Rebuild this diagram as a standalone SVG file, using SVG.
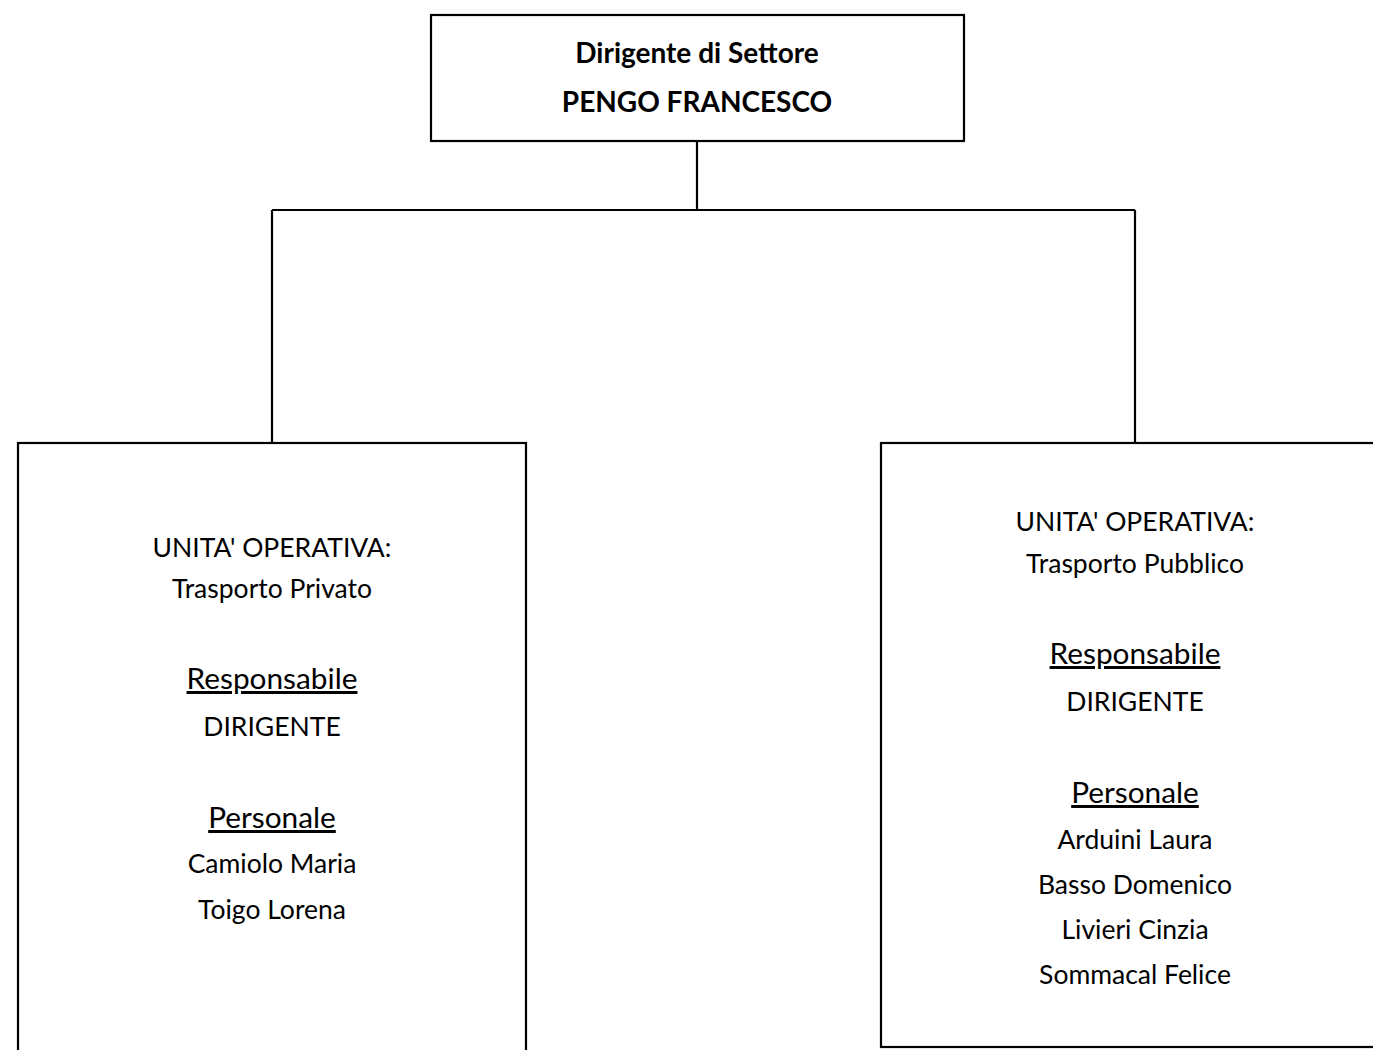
<svg xmlns="http://www.w3.org/2000/svg" width="1373" height="1050" viewBox="0 0 1373 1050">
<style>
.box{fill:#fff;stroke:#000;stroke-width:2.2}
.conn{fill:none;stroke:#000;stroke-width:2.2}
text{font-family:Lato,"Open Sans","Liberation Sans",sans-serif;fill:#000;text-anchor:middle}
.t{font-size:26.5px}
.h{font-size:29.8px;text-decoration:underline}
.b{font-size:28px;font-weight:bold}
</style>
<rect width="1373" height="1050" fill="#fff"/>
<g id="connectors">
<path class="conn" d="M697 141V210M272 210H1135M272 210V443M1135 210V443"/>
</g>
<g id="node-dirigente">
<rect class="box" x="431" y="15" width="533" height="126"/>
<text class="b" x="697" y="63">Dirigente di Settore</text>
<text class="b" x="697" y="112">PENGO FRANCESCO</text>
</g>
<g id="node-privato">
<rect class="box" x="18" y="443" width="508" height="620"/>
<text class="t" x="272" y="557">UNITA' OPERATIVA:</text>
<text class="t" x="272" y="598">Trasporto Privato</text>
<text class="h" x="272" y="689">Responsabile</text>
<text class="t" x="272" y="736">DIRIGENTE</text>
<text class="h" x="272" y="828">Personale</text>
<text class="t" x="272" y="873">Camiolo Maria</text>
<text class="t" x="272" y="919">Toigo Lorena</text>
</g>
<g id="node-pubblico">
<rect class="box" x="881" y="443" width="510" height="604"/>
<text class="t" x="1135" y="531">UNITA' OPERATIVA:</text>
<text class="t" x="1135" y="573">Trasporto Pubblico</text>
<text class="h" x="1135" y="664">Responsabile</text>
<text class="t" x="1135" y="711">DIRIGENTE</text>
<text class="h" x="1135" y="803">Personale</text>
<text class="t" x="1135" y="849">Arduini Laura</text>
<text class="t" x="1135" y="894">Basso Domenico</text>
<text class="t" x="1135" y="939">Livieri Cinzia</text>
<text class="t" x="1135" y="984">Sommacal Felice</text>
</g>
</svg>
